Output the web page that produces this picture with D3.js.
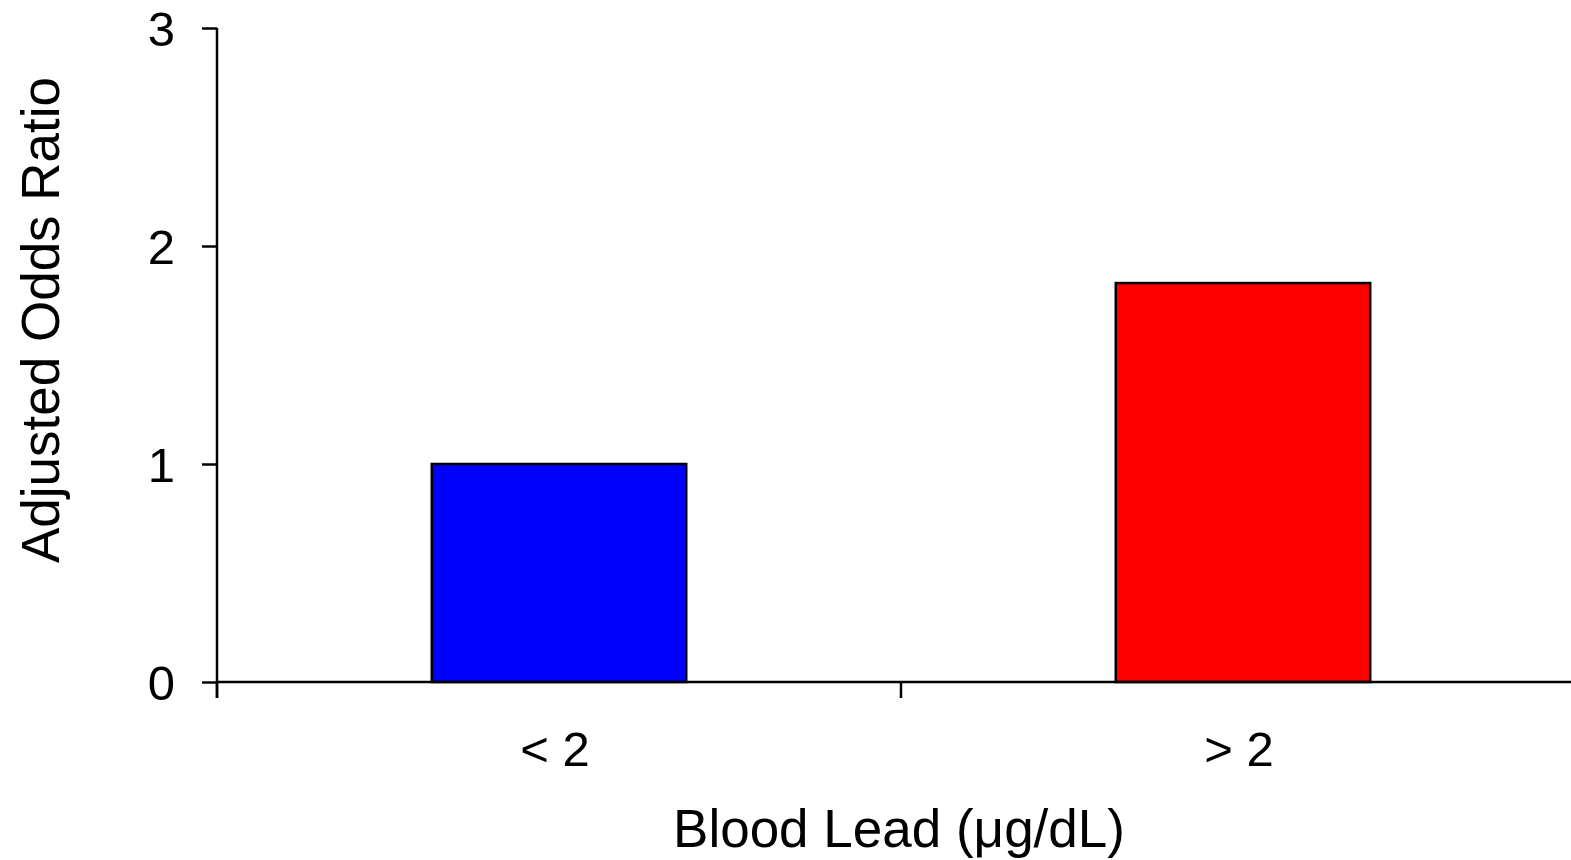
<!DOCTYPE html>
<html>
<head>
<meta charset="utf-8">
<script src="https://cdn.jsdelivr.net/npm/d3@7"></script>
<style>
  body { margin: 0; background: #fff; }
  text { font-family: "Liberation Sans", Arial, sans-serif; fill: #000; }
</style>
</head>
<body>
<div id="chart"></div>
<script>
const categories = ["< 2", "> 2"];
const oddsRatios = [1.0, 1.83];
const barColors = ["#0000ff", "#ff0000"];
const yTicks = [0, 1, 2, 3];

const W = 1571, H = 860;
const margin = {top: 28, left: 217, bottom: 178};
const plotBottom = H - margin.bottom; // 682

const svg = d3.select("#chart").append("svg")
  .attr("width", W).attr("height", H);

const y = d3.scaleLinear().domain([0, 3]).range([plotBottom, margin.top]);
const x = d3.scaleBand().domain(categories).range([margin.left, margin.left + 2 * 684]);
const barW = x.bandwidth() * 0.372;

// bars
svg.selectAll("rect.bar")
  .data(categories)
  .enter().append("rect")
  .attr("class", "bar")
  .attr("x", (d) => x(d) + x.bandwidth() / 2 - barW / 2)
  .attr("y", (d, i) => y(oddsRatios[i]))
  .attr("width", barW)
  .attr("height", (d, i) => plotBottom - y(oddsRatios[i]))
  .attr("fill", (d, i) => barColors[i])
  .attr("stroke", "#000")
  .attr("stroke-width", 2.5);

// y axis
const yAxis = d3.axisLeft(y).tickValues(yTicks).tickFormat(d3.format("d")).tickSize(15).tickPadding(28);
const gy = svg.append("g")
  .attr("transform", "translate(" + margin.left + ",0)")
  .call(yAxis);
gy.select(".domain").remove();
gy.append("line").attr("x1", 0).attr("x2", 0)
  .attr("y1", margin.top).attr("y2", plotBottom + 16)
  .attr("stroke", "#000").attr("stroke-width", 2.5);
gy.selectAll(".tick line").attr("stroke-width", 2.5);
gy.selectAll(".tick text")
  .attr("font-size", 49).attr("dy", "0.36em").attr("x", -42)
  .style("font-family", "'Liberation Sans', Arial, sans-serif");

// x axis
const gx = svg.append("g");
gx.append("line")
  .attr("x1", margin.left).attr("x2", W)
  .attr("y1", plotBottom).attr("y2", plotBottom)
  .attr("stroke", "#000").attr("stroke-width", 2.5);
const boundaries = categories.map((d) => x(d)).concat([x.range()[1]]);
gx.selectAll("line.xtick")
  .data(boundaries)
  .enter().append("line")
  .attr("class", "xtick")
  .attr("x1", (d) => d).attr("x2", (d) => d)
  .attr("y1", plotBottom).attr("y2", plotBottom + 16)
  .attr("stroke", "#000").attr("stroke-width", 2.5);
gx.selectAll("text.xlab")
  .data(categories)
  .enter().append("text")
  .attr("class", "xlab")
  .attr("x", (d) => x(d) + x.bandwidth() / 2 - 4)
  .attr("y", 766)
  .attr("text-anchor", "middle")
  .attr("font-size", 49)
  .text((d) => d);

// axis titles
svg.append("text")
  .attr("x", 899).attr("y", 847)
  .attr("text-anchor", "middle")
  .attr("font-size", 53)
  .text("Blood Lead (\u03bcg/dL)");

svg.append("text")
  .attr("transform", "translate(59," + 320 + ") rotate(-90)")
  .attr("text-anchor", "middle")
  .attr("font-size", 53)
  .text("Adjusted Odds Ratio");
</script>
</body>
</html>
